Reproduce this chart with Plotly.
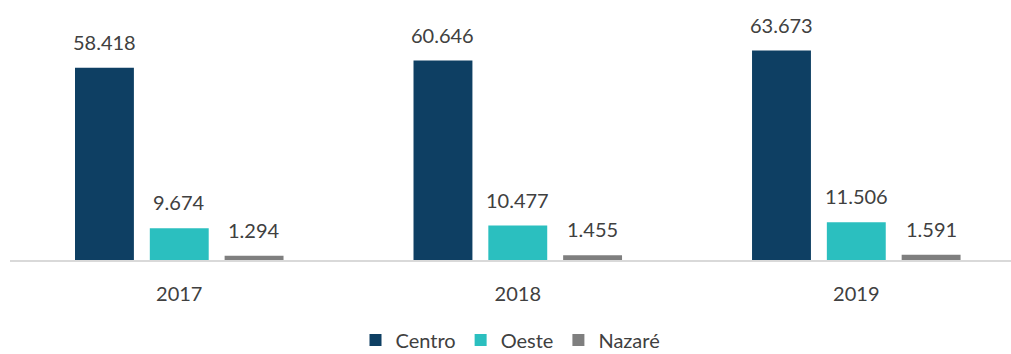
import plotly.graph_objects as go

# Yearly totals by region
years = ["2017", "2018", "2019"]
centro = [58418, 60646, 63673]
oeste = [9674, 10477, 11506]
nazare = [1294, 1455, 1591]

series = [
    ("Centro", centro, "#0E3F63"),
    ("Oeste", oeste, "#2BBFBF"),
    ("Nazaré", nazare, "#7F7F7F"),
]

FONT = "Lato, 'Open Sans', sans-serif"
TEXT_COLOR = "#404040"

# bar geometry in category units (one category = 1.0)
bar_w = 0.174
bar_gap = 0.047
span = len(series) * bar_w + (len(series) - 1) * bar_gap

fig = go.Figure()
annotations = []
for i, (name, vals, color) in enumerate(series):
    off = -span / 2 + i * (bar_w + bar_gap)
    xs = list(range(len(years)))
    fig.add_trace(go.Bar(
        name=name,
        x=xs,
        y=vals,
        width=[bar_w] * len(xs),
        offset=off,
        marker=dict(color=color, line=dict(width=0)),
        hoverinfo="skip",
    ))
    for xi, v in zip(xs, vals):
        annotations.append(dict(
            x=xi + off + bar_w / 2,
            y=v,
            xref="x",
            yref="y",
            text=f"{v:,}".replace(",", "."),
            showarrow=False,
            yanchor="bottom",
            yshift=12,
            font=dict(family=FONT, size=20, color=TEXT_COLOR),
        ))

fig.update_layout(
    width=1011,
    height=354,
    margin=dict(l=10, r=0, t=0, b=94, autoexpand=False),
    paper_bgcolor="white",
    plot_bgcolor="white",
    barmode="overlay",
    showlegend=True,
    legend=dict(
        orientation="h",
        x=0.5,
        xanchor="center",
        y=-0.3077,
        yanchor="middle",
        font=dict(family=FONT, size=20, color=TEXT_COLOR),
        itemsizing="constant",
        traceorder="normal",
    ),
    annotations=annotations,
    xaxis=dict(
        range=[-0.5, 2.457],
        tickmode="array",
        tickvals=list(range(len(years))),
        ticktext=years,
        showgrid=False,
        zeroline=False,
        showline=True,
        linecolor="#D9D9D9",
        linewidth=1.5,
        ticks="outside",
        ticklen=15,
        tickcolor="rgba(0,0,0,0)",
        tickfont=dict(family=FONT, size=20, color=TEXT_COLOR),
    ),
    yaxis=dict(
        range=[0, 79050],
        visible=False,
        showgrid=False,
        zeroline=False,
    ),
)

fig.write_html("out.html")
